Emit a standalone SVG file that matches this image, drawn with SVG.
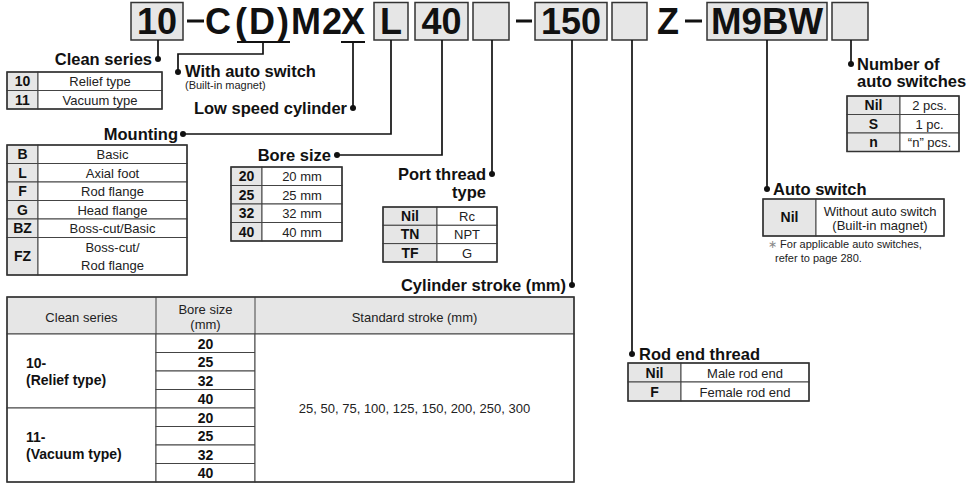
<svg xmlns="http://www.w3.org/2000/svg" width="978" height="484" viewBox="0 0 978 484">
<style>
  .bx{fill:#e6e6e6;stroke:#333;stroke-width:1.5}
  .big{font-family:"Liberation Sans",Arial,sans-serif;font-weight:bold;font-size:36px;fill:#111}
  .lbl{font-family:"Liberation Sans",Arial,sans-serif;font-weight:bold;font-size:16.5px;fill:#111}
  .sm{font-family:"Liberation Sans",Arial,sans-serif;font-size:11px;fill:#222}
  .t{font-family:"Liberation Sans",Arial,sans-serif;font-size:13px;fill:#222}
  .tb{font-family:"Liberation Sans",Arial,sans-serif;font-size:14px;font-weight:bold;fill:#111}
  .c{text-anchor:middle}
  .e{text-anchor:end}
  .gc{fill:#e6e6e6;stroke:#444;stroke-width:1}
  .wc{fill:#fff;stroke:#444;stroke-width:1}
  .ob{fill:none;stroke:#333;stroke-width:1.5}
  .cn{fill:none;stroke:#111;stroke-width:1.7}
  .dot{fill:#111}
  .dash{fill:#111}
</style>

<!-- Top model code -->
<g id="code">
  <rect class="bx" x="131" y="2.5" width="52" height="37.5"/>
  <text class="big c" x="157" y="34">10</text>
  <rect class="dash" x="187" y="19.5" width="17" height="3"/>
  <text class="big" x="205" y="34">C</text>
  <text class="big" x="235" y="34" letter-spacing="2">(D)</text>
  <text class="big" x="291" y="34" letter-spacing="1">M2</text>
  <text class="big" x="341" y="34">X</text>
  <rect class="dash" x="237" y="41" width="53" height="2"/>
  <rect class="dash" x="341" y="41" width="24" height="2"/>
  <rect class="bx" x="374" y="2.5" width="34" height="37.5"/>
  <text class="big c" x="391" y="34">L</text>
  <rect class="bx" x="415" y="2.5" width="53" height="37.5"/>
  <text class="big c" x="441.5" y="34">40</text>
  <rect class="bx" x="473" y="2.5" width="36" height="37.5"/>
  <rect class="dash" x="516" y="19.5" width="16" height="3"/>
  <rect class="bx" x="535" y="2.5" width="72" height="37.5"/>
  <text class="big c" x="571" y="34">150</text>
  <rect class="bx" x="612" y="2.5" width="35" height="37.5"/>
  <text class="big" x="657" y="34">Z</text>
  <rect class="dash" x="685" y="19.5" width="17" height="3"/>
  <rect class="bx" x="707" y="2.5" width="120" height="37.5"/>
  <text class="big c" x="767" y="34" textLength="112" lengthAdjust="spacingAndGlyphs">M9BW</text>
  <rect class="bx" x="832" y="2.5" width="36" height="37.5"/>
</g>

<!-- Connectors -->
<g id="connectors">
  <path class="cn" d="M158 40V59"/>
  <path class="cn" d="M263 43V54H178V72"/>
  <path class="cn" d="M353 43V108"/>
  <path class="cn" d="M391 40V134H183"/>
  <path class="cn" d="M442 40V155H337"/>
  <path class="cn" d="M492 40V174"/>
  <path class="cn" d="M572 40V285"/>
  <path class="cn" d="M632 40V354"/>
  <path class="cn" d="M767 40V189"/>
  <path class="cn" d="M851 40V64"/>
  <circle class="dot" cx="158" cy="59" r="3"/>
  <circle class="dot" cx="178" cy="72" r="3"/>
  <circle class="dot" cx="353" cy="108" r="3"/>
  <circle class="dot" cx="183" cy="134" r="3"/>
  <circle class="dot" cx="337" cy="155" r="3"/>
  <circle class="dot" cx="492" cy="174" r="3"/>
  <circle class="dot" cx="572" cy="285" r="3"/>
  <circle class="dot" cx="632" cy="354" r="3"/>
  <circle class="dot" cx="767" cy="189" r="3"/>
  <circle class="dot" cx="851" cy="64" r="3"/>
</g>

<!-- Clean series -->
<g id="clean-series">
  <text class="lbl e" x="152" y="64.5">Clean series</text>
  <rect class="gc" x="7" y="72" width="31" height="18.5"/>
  <rect class="wc" x="38" y="72" width="124" height="18.5"/>
  <rect class="gc" x="7" y="90.5" width="31" height="18.5"/>
  <rect class="wc" x="38" y="90.5" width="124" height="18.5"/>
  <rect class="ob" x="7" y="72" width="155" height="37"/>
  <text class="tb c" x="22.5" y="86">10</text>
  <text class="t c" x="100" y="86">Relief type</text>
  <text class="tb c" x="22.5" y="104.5">11</text>
  <text class="t c" x="100" y="104.5">Vacuum type</text>
</g>

<!-- With auto switch -->
<g id="with-auto-switch">
  <text class="lbl" x="185" y="77">With auto switch</text>
  <text class="sm" x="185" y="88.5">(Built-in magnet)</text>
</g>

<!-- Low speed cylinder -->
<g id="low-speed">
  <text class="lbl e" x="347" y="113.5">Low speed cylinder</text>
</g>

<!-- Mounting -->
<g id="mounting">
  <text class="lbl e" x="178" y="139.5">Mounting</text>
  <rect class="gc" x="7" y="145" width="31" height="18.5"/><rect class="wc" x="38" y="145" width="149" height="18.5"/>
  <rect class="gc" x="7" y="163.5" width="31" height="18.5"/><rect class="wc" x="38" y="163.5" width="149" height="18.5"/>
  <rect class="gc" x="7" y="182" width="31" height="18.5"/><rect class="wc" x="38" y="182" width="149" height="18.5"/>
  <rect class="gc" x="7" y="200.5" width="31" height="18.5"/><rect class="wc" x="38" y="200.5" width="149" height="18.5"/>
  <rect class="gc" x="7" y="219" width="31" height="18.5"/><rect class="wc" x="38" y="219" width="149" height="18.5"/>
  <rect class="gc" x="7" y="237.5" width="31" height="37.5"/><rect class="wc" x="38" y="237.5" width="149" height="37.5"/>
  <rect class="ob" x="7" y="145" width="180" height="130"/>
  <text class="tb c" x="22.5" y="159">B</text><text class="t c" x="112.5" y="159">Basic</text>
  <text class="tb c" x="22.5" y="177.5">L</text><text class="t c" x="112.5" y="177.5">Axial foot</text>
  <text class="tb c" x="22.5" y="196">F</text><text class="t c" x="112.5" y="196">Rod flange</text>
  <text class="tb c" x="22.5" y="214.5">G</text><text class="t c" x="112.5" y="214.5">Head flange</text>
  <text class="tb c" x="22.5" y="233">BZ</text><text class="t c" x="112.5" y="233">Boss-cut/Basic</text>
  <text class="tb c" x="22.5" y="261">FZ</text>
  <text class="t c" x="112.5" y="252">Boss-cut/</text>
  <text class="t c" x="112.5" y="270">Rod flange</text>
</g>

<!-- Bore size -->
<g id="bore-size">
  <text class="lbl e" x="331" y="160.5">Bore size</text>
  <rect class="gc" x="231" y="167" width="31" height="18.5"/><rect class="wc" x="262" y="167" width="80" height="18.5"/>
  <rect class="gc" x="231" y="185.5" width="31" height="18.5"/><rect class="wc" x="262" y="185.5" width="80" height="18.5"/>
  <rect class="gc" x="231" y="204" width="31" height="18.5"/><rect class="wc" x="262" y="204" width="80" height="18.5"/>
  <rect class="gc" x="231" y="222.5" width="31" height="18.5"/><rect class="wc" x="262" y="222.5" width="80" height="18.5"/>
  <rect class="ob" x="231" y="167" width="111" height="74"/>
  <text class="tb c" x="246.5" y="181">20</text><text class="t c" x="302" y="181">20 mm</text>
  <text class="tb c" x="246.5" y="199.5">25</text><text class="t c" x="302" y="199.5">25 mm</text>
  <text class="tb c" x="246.5" y="218">32</text><text class="t c" x="302" y="218">32 mm</text>
  <text class="tb c" x="246.5" y="236.5">40</text><text class="t c" x="302" y="236.5">40 mm</text>
</g>

<!-- Port thread type -->
<g id="port-thread">
  <text class="lbl e" x="486" y="179.5">Port thread</text>
  <text class="lbl e" x="486" y="198">type</text>
  <rect class="gc" x="383" y="207" width="54" height="18.3"/><rect class="wc" x="437" y="207" width="60" height="18.3"/>
  <rect class="gc" x="383" y="225.3" width="54" height="18.3"/><rect class="wc" x="437" y="225.3" width="60" height="18.3"/>
  <rect class="gc" x="383" y="243.6" width="54" height="18.4"/><rect class="wc" x="437" y="243.6" width="60" height="18.4"/>
  <rect class="ob" x="383" y="207" width="114" height="55"/>
  <text class="tb c" x="410" y="221">Nil</text><text class="t c" x="467" y="221">Rc</text>
  <text class="tb c" x="410" y="239.3">TN</text><text class="t c" x="467" y="239.3">NPT</text>
  <text class="tb c" x="410" y="257.6">TF</text><text class="t c" x="467" y="257.6">G</text>
</g>

<!-- Number of auto switches -->
<g id="number-of-switches">
  <text class="lbl" x="857" y="69.5">Number of</text>
  <text class="lbl" x="857" y="87">auto switches</text>
  <rect class="gc" x="847" y="96" width="53" height="18.5"/><rect class="wc" x="900" y="96" width="59" height="18.5"/>
  <rect class="gc" x="847" y="114.5" width="53" height="18.5"/><rect class="wc" x="900" y="114.5" width="59" height="18.5"/>
  <rect class="gc" x="847" y="133" width="53" height="18.5"/><rect class="wc" x="900" y="133" width="59" height="18.5"/>
  <rect class="ob" x="847" y="96" width="112" height="55.5"/>
  <text class="tb c" x="873.5" y="110">Nil</text><text class="t c" x="929.5" y="110">2 pcs.</text>
  <text class="tb c" x="873.5" y="128.5">S</text><text class="t c" x="929.5" y="128.5">1 pc.</text>
  <text class="tb c" x="873.5" y="147">n</text><text class="t c" x="929.5" y="147">“n” pcs.</text>
</g>

<!-- Auto switch -->
<g id="auto-switch">
  <text class="lbl" x="773" y="194.5">Auto switch</text>
  <rect class="gc" x="763" y="199" width="53" height="37"/><rect class="wc" x="816" y="199" width="128" height="37"/>
  <rect class="ob" x="763" y="199" width="181" height="37"/>
  <text class="tb c" x="789.5" y="222">Nil</text>
  <text class="t c" x="880" y="215.5">Without auto switch</text>
  <text class="t c" x="880" y="230">(Built-in magnet)</text>
  <text class="sm" x="768" y="248"><tspan fill="#888">∗</tspan> For applicable auto switches,</text>
  <text class="sm" x="775" y="262">refer to page 280.</text>
</g>

<!-- Rod end thread -->
<g id="rod-end-thread">
  <text class="lbl" x="639" y="359.5">Rod end thread</text>
  <rect class="gc" x="628" y="363" width="53" height="19"/><rect class="wc" x="681" y="363" width="128" height="19"/>
  <rect class="gc" x="628" y="382" width="53" height="19"/><rect class="wc" x="681" y="382" width="128" height="19"/>
  <rect class="ob" x="628" y="363" width="181" height="38"/>
  <text class="tb c" x="654.5" y="377.5">Nil</text><text class="t c" x="745" y="377.5">Male rod end</text>
  <text class="tb c" x="654.5" y="396.5">F</text><text class="t c" x="745" y="396.5">Female rod end</text>
</g>

<!-- Cylinder stroke -->
<g id="cylinder-stroke">
  <text class="lbl e" x="566" y="290.5">Cylinder stroke (mm)</text>
  <rect class="gc" x="7" y="297" width="567" height="37"/>
  <rect class="wc" x="7" y="334" width="149" height="74"/>
  <rect class="wc" x="7" y="408" width="149" height="74"/>
  <rect class="wc" x="156" y="334" width="99" height="18.5"/>
  <rect class="wc" x="156" y="352.5" width="99" height="18.5"/>
  <rect class="wc" x="156" y="371" width="99" height="18.5"/>
  <rect class="wc" x="156" y="389.5" width="99" height="18.5"/>
  <rect class="wc" x="156" y="408" width="99" height="18.5"/>
  <rect class="wc" x="156" y="426.5" width="99" height="18.5"/>
  <rect class="wc" x="156" y="445" width="99" height="18.5"/>
  <rect class="wc" x="156" y="463.5" width="99" height="18.5"/>
  <rect class="wc" x="255" y="334" width="319" height="148"/>
  <path fill="none" stroke="#444" stroke-width="1" d="M156 297V334M255 297V334"/>
  <rect class="ob" x="7" y="297" width="567" height="185"/>
  <text class="t c" x="81.5" y="322" font-size="12.5">Clean series</text>
  <text class="t c" x="205.5" y="314" font-size="12.5">Bore size</text>
  <text class="t c" x="205.5" y="329" font-size="12.5">(mm)</text>
  <text class="t c" x="414.5" y="322" font-size="12.5">Standard stroke (mm)</text>
  <text class="tb" x="26" y="368" font-size="13">10-</text>
  <text class="tb" x="26" y="384.5" font-size="13">(Relief type)</text>
  <text class="tb" x="26" y="442" font-size="13">11-</text>
  <text class="tb" x="26" y="458.5" font-size="13">(Vacuum type)</text>
  <text class="tb c" x="205.5" y="348.5" font-size="14.5">20</text>
  <text class="tb c" x="205.5" y="367" font-size="14.5">25</text>
  <text class="tb c" x="205.5" y="385.5" font-size="14.5">32</text>
  <text class="tb c" x="205.5" y="404" font-size="14.5">40</text>
  <text class="tb c" x="205.5" y="422.5" font-size="14.5">20</text>
  <text class="tb c" x="205.5" y="441" font-size="14.5">25</text>
  <text class="tb c" x="205.5" y="459.5" font-size="14.5">32</text>
  <text class="tb c" x="205.5" y="478" font-size="14.5">40</text>
  <text class="t c" x="414.5" y="413" font-size="14">25, 50, 75, 100, 125, 150, 200, 250, 300</text>
</g>
</svg>
